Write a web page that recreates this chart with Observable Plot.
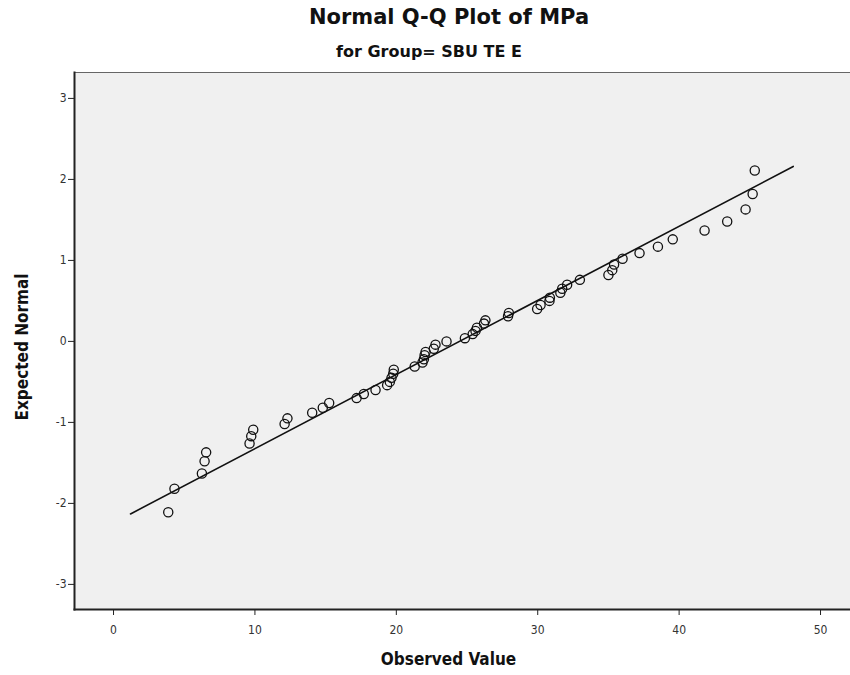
<!DOCTYPE html>
<html>
<head>
<meta charset="utf-8">
<script src="https://cdn.jsdelivr.net/npm/d3@7"></script>
<script src="https://cdn.jsdelivr.net/npm/@observablehq/plot@0.6"></script>
<style>
  html, body { margin: 0; padding: 0; background: #fff; }
  #wrap { position: relative; width: 850px; height: 675px; font-family: "DejaVu Sans", sans-serif; }
  #title { position: absolute; left: 24px; width: 850px; top: 5px; text-align: center; font-weight: bold; font-size: 21px; color: #111; }
  #subtitle { position: absolute; left: 4px; width: 850px; top: 42px; text-align: center; font-weight: bold; font-size: 16px; color: #111; }
  #chart { position: absolute; left: 0; top: 0; }
</style>
</head>
<body>
<div id="wrap">
  <div id="chart"></div>
  <div id="title">Normal Q-Q Plot of MPa</div>
  <div id="subtitle">for Group= SBU TE E</div>
</div>
<script>
// Observed values (MPa), sorted
const observed = [3.87, 4.31, 6.25, 6.44, 6.55, 9.62, 9.74, 9.88, 12.1, 12.3,
  14.05, 14.8, 15.25, 17.19, 17.7, 18.53, 19.35, 19.54, 19.66, 19.78,
  19.82, 21.3, 21.85, 21.95, 22.0, 22.07, 22.65, 22.77, 23.55, 24.85,
  25.4, 25.6, 25.7, 26.2, 26.3, 27.9, 27.96, 29.96, 30.2, 30.83,
  30.86, 31.6, 31.73, 32.08, 32.98, 35.0, 35.27, 35.4, 36.0, 37.2,
  38.5, 39.55, 41.8, 43.4, 44.7, 45.2, 45.35];
// Expected normal values
const expected = [-2.11, -1.82, -1.63, -1.48, -1.37, -1.26, -1.17, -1.09, -1.02, -0.95,
  -0.88, -0.82, -0.76, -0.70, -0.65, -0.60, -0.54, -0.50, -0.45, -0.40,
  -0.35, -0.31, -0.26, -0.22, -0.17, -0.13, -0.09, -0.04, 0.00, 0.04,
  0.09, 0.13, 0.17, 0.22, 0.26, 0.31, 0.35, 0.40, 0.45, 0.50,
  0.54, 0.60, 0.65, 0.70, 0.76, 0.82, 0.88, 0.95, 1.02, 1.09,
  1.17, 1.26, 1.37, 1.48, 1.63, 1.82, 2.11];
// Reference line endpoints
const lineX = [1.2, 48.07];
const lineY = [-2.13, 2.16];
const xTicks = [0, 10, 20, 30, 40, 50];
const yTicks = [-3, -2, -1, 0, 1, 2, 3];

const points = observed.map((x, i) => ({x, y: expected[i]}));
const line = lineX.map((x, i) => ({x, y: lineY[i]}));
const fmt = d => String(d);
const condensed = '"DejaVu Sans Condensed", "DejaVu Sans", sans-serif';

const chart = Plot.plot({
  width: 850,
  height: 675,
  marginLeft: 74,
  marginRight: 0,
  marginTop: 72,
  marginBottom: 66,
  style: {fontFamily: condensed, fontSize: "12px", color: "#333", background: "transparent"},
  x: {domain: [-2.76, 52.12], label: null},
  y: {domain: [-3.31, 3.32], label: null},
  marks: [
    Plot.frame({fill: "#f0f0f0", stroke: "#666", strokeWidth: 1}),
    Plot.axisX({ticks: xTicks, tickFormat: fmt, tickSize: 6, tickPadding: 10, stroke: "#222", fontSize: 12, color: "#333", label: null}),
    Plot.axisY({ticks: yTicks, tickFormat: fmt, tickSize: 6, tickPadding: 2, stroke: "#222", fontSize: 12, label: null}),
    Plot.frame({anchor: "left", stroke: "#222", strokeWidth: 2}),
    Plot.frame({anchor: "bottom", stroke: "#222", strokeWidth: 2}),
    Plot.line(line, {x: "x", y: "y", stroke: "#111", strokeWidth: 1.6}),
    Plot.dot(points, {x: "x", y: "y", r: 4.6, stroke: "#111", strokeWidth: 1.3, fill: "none"}),
    Plot.text(["Observed Value"], {frameAnchor: "bottom", dy: 55, dx: -14, fontWeight: "bold", fontSize: 17, fill: "#111"}),
    Plot.text(["Expected Normal"], {frameAnchor: "left", textAnchor: "middle", dx: -52, dy: 6, rotate: -90, fontWeight: "bold", fontSize: 17, fill: "#111"})
  ]
});
document.getElementById("chart").appendChild(chart);
</script>
</body>
</html>
